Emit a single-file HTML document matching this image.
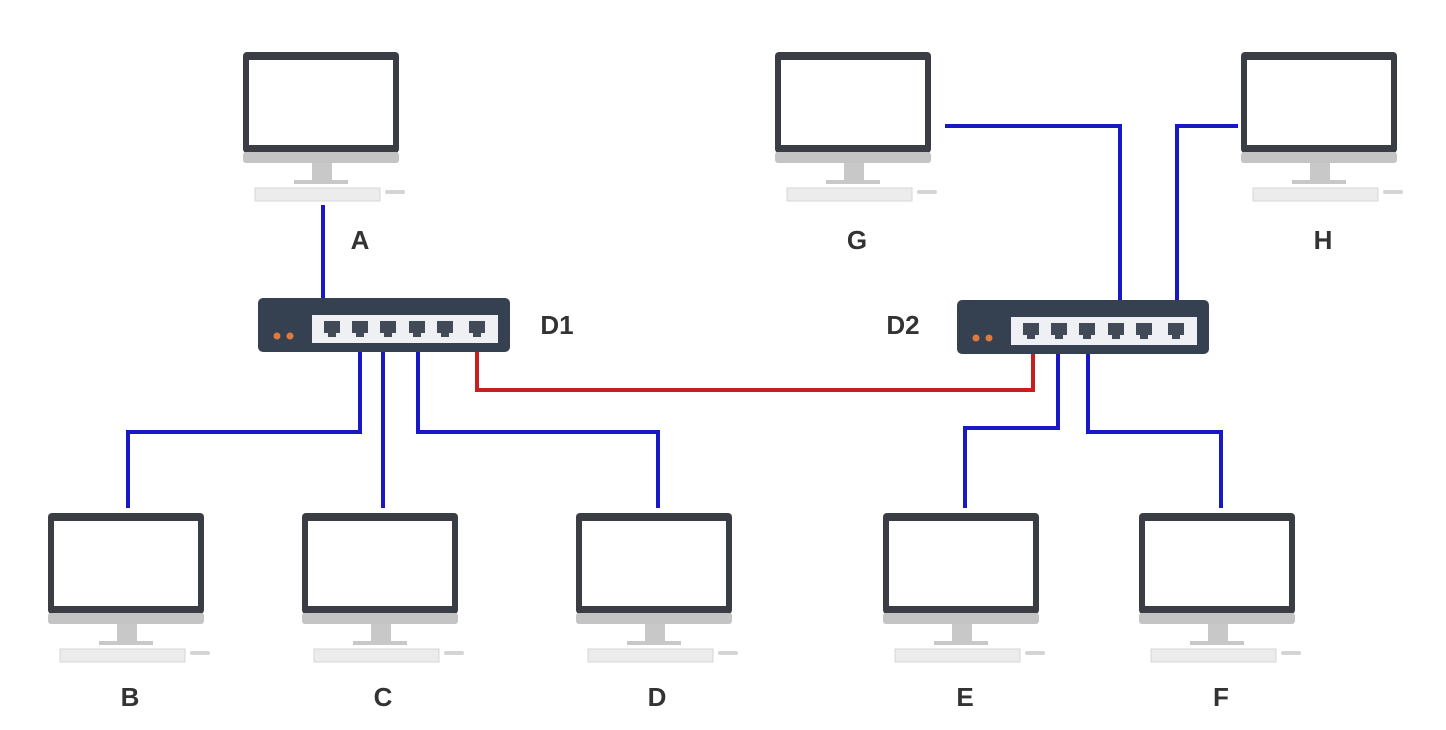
<!DOCTYPE html>
<html><head><meta charset="utf-8"><style>
html,body{margin:0;padding:0;background:#fff;}
svg{display:block}
text{font-family:"Liberation Sans",sans-serif;font-weight:bold;font-size:26px;fill:#333;text-anchor:middle}
</style></head><body>
<svg width="1446" height="730" viewBox="0 0 1446 730">
<defs>
<g id="pc">
<rect x="0" y="0" width="156" height="101" rx="4" fill="#3a3d44"/>
<rect x="6" y="8" width="144" height="85" fill="#fff"/>
<rect x="0" y="100" width="156" height="11" rx="3" fill="#c4c4c4"/>
<rect x="69" y="111" width="20" height="18" fill="#c8c8c8"/>
<rect x="51" y="128" width="54" height="4" fill="#c8c8c8"/>
<rect x="12" y="136" width="125" height="13" fill="#ececec" stroke="#d6d6d6"/>
<rect x="142" y="138" width="20" height="4" rx="2" fill="#d4d4d4"/>
</g>
<g id="sw">
<rect x="0" y="0" width="252" height="54" rx="5" fill="#354151"/>
<rect x="54" y="17" width="186" height="28" fill="#eef0f3"/>
<circle cx="19" cy="38" r="3.5" fill="#e07a3c"/><circle cx="32" cy="38" r="3.5" fill="#e07a3c"/>
<g fill="#414a56">
<path d="M66,23h16v12h-4v4h-8v-4h-4z"/>
<path d="M94,23h16v12h-4v4h-8v-4h-4z"/>
<path d="M122,23h16v12h-4v4h-8v-4h-4z"/>
<path d="M151,23h16v12h-4v4h-8v-4h-4z"/>
<path d="M179,23h16v12h-4v4h-8v-4h-4z"/>
<path d="M211,23h16v12h-4v4h-8v-4h-4z"/>
</g>
</g>
</defs>
<g fill="none" stroke="#1818c4" stroke-width="4">
<path d="M323,205V298"/>
<path d="M360,352V432H128V508"/>
<path d="M383,352V508"/>
<path d="M418,352V432H658V508"/>
<path d="M1058,353V428H965V508"/>
<path d="M1088,353V432H1221V508"/>
<path d="M945,126H1120V300"/>
<path d="M1238,126H1177V300"/>
</g>
<path d="M477,352V390H1033V352" fill="none" stroke="#c81e1e" stroke-width="4"/>
<use href="#pc" x="243" y="52"/>
<use href="#pc" x="775" y="52"/>
<use href="#pc" x="1241" y="52"/>
<use href="#pc" x="48" y="513"/>
<use href="#pc" x="302" y="513"/>
<use href="#pc" x="576" y="513"/>
<use href="#pc" x="883" y="513"/>
<use href="#pc" x="1139" y="513"/>
<use href="#sw" x="258" y="298"/>
<use href="#sw" x="957" y="300"/>
<text x="360" y="249">A</text>
<text x="857" y="249">G</text>
<text x="1323" y="249">H</text>
<text x="130" y="706">B</text>
<text x="383" y="706">C</text>
<text x="657" y="706">D</text>
<text x="965" y="706">E</text>
<text x="1221" y="706">F</text>
<text x="557" y="334">D1</text>
<text x="903" y="334">D2</text>
</svg>
</body></html>
